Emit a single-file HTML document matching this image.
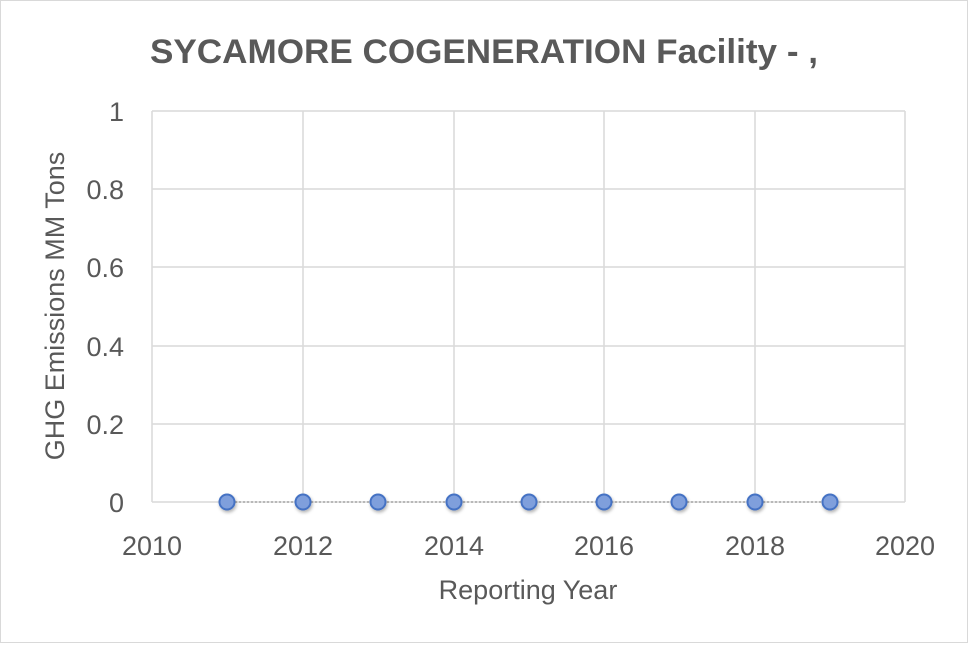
<!DOCTYPE html>
<html><head><style>
body{margin:0;background:#fff;}
svg text{font-family:"Liberation Sans",sans-serif;fill:#595959;}
</style></head><body>
<svg width="968" height="643" xmlns="http://www.w3.org/2000/svg">
<defs><filter id="sh" x="-50%" y="-50%" width="200%" height="200%"><feDropShadow dx="1" dy="2" stdDeviation="1.5" flood-color="#000" flood-opacity="0.3"/></filter></defs>
<rect x="0.5" y="0.5" width="967" height="642" fill="#fff" stroke="#d9d9d9"/>
<text x="484" y="63" text-anchor="middle" font-size="34" font-weight="bold" textLength="668" lengthAdjust="spacingAndGlyphs">SYCAMORE COGENERATION Facility - ,</text>
<g stroke="#d9d9d9" stroke-width="1.5">
<line x1="152" y1="111" x2="905" y2="111"/>
<line x1="152" y1="189" x2="905" y2="189"/>
<line x1="152" y1="267" x2="905" y2="267"/>
<line x1="152" y1="346" x2="905" y2="346"/>
<line x1="152" y1="424" x2="905" y2="424"/>
<line x1="152" y1="502" x2="905" y2="502"/>
<line x1="152" y1="111" x2="152" y2="502"/>
<line x1="303" y1="111" x2="303" y2="502"/>
<line x1="454" y1="111" x2="454" y2="502"/>
<line x1="604" y1="111" x2="604" y2="502"/>
<line x1="755" y1="111" x2="755" y2="502"/>
<line x1="905" y1="111" x2="905" y2="502"/>
</g>
<line x1="227" y1="502" x2="830" y2="502" stroke="#a6a6a6" stroke-width="1.5" stroke-dasharray="2,2"/>
<g fill="#7f9fdc" stroke="#4472c4" stroke-width="2" filter="url(#sh)">
<circle cx="227" cy="502" r="7.5"/><circle cx="303" cy="502" r="7.5"/><circle cx="378" cy="502" r="7.5"/>
<circle cx="454" cy="502" r="7.5"/><circle cx="529" cy="502" r="7.5"/><circle cx="604" cy="502" r="7.5"/>
<circle cx="679" cy="502" r="7.5"/><circle cx="755" cy="502" r="7.5"/><circle cx="830" cy="502" r="7.5"/>
</g>
<g font-size="27" text-anchor="end">
<text x="124" y="121">1</text><text x="124" y="199">0.8</text><text x="124" y="277">0.6</text>
<text x="124" y="356">0.4</text><text x="124" y="434">0.2</text><text x="124" y="512">0</text>
</g>
<g font-size="27" text-anchor="middle">
<text x="152" y="555">2010</text><text x="303" y="555">2012</text><text x="454" y="555">2014</text>
<text x="604" y="555">2016</text><text x="755" y="555">2018</text><text x="905" y="555">2020</text>
<text x="528" y="599">Reporting Year</text>
</g>
<text transform="translate(64,306) rotate(-90)" font-size="27" text-anchor="middle">GHG Emissions MM Tons</text>
</svg>
</body></html>
